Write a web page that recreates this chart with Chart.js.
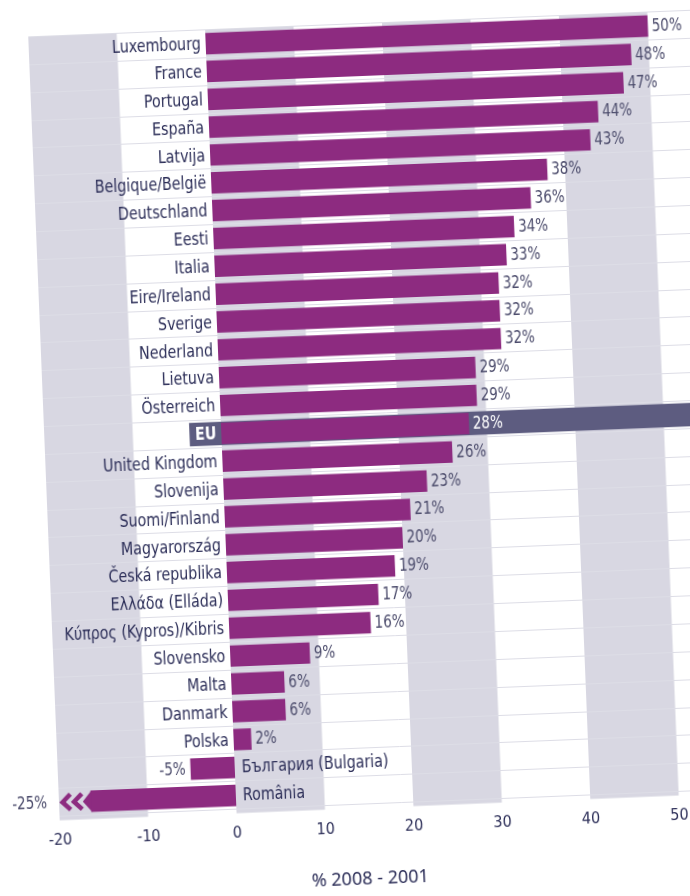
<!DOCTYPE html>
<html>
<head>
<meta charset="utf-8">
<script src="https://cdn.jsdelivr.net/npm/chart.js@4.4.1/dist/chart.umd.min.js"></script>
<style>
  html, body { margin: 0; padding: 0; background: #ffffff; }
  #wrap { position: relative; width: 690px; height: 896px; overflow: hidden; background: #ffffff; }
  /* the printed page in the reference is scanned slightly askew */
  #c { position: absolute; left: -30px; top: 0; transform-origin: 375px 448px; transform: rotate(-2.3deg); }
</style>
</head>
<body>
<div id="wrap"><canvas id="c" width="760" height="896"></canvas></div>
<script>
// ---- data ----
const categories = [
  'Luxembourg', 'France', 'Portugal', 'España', 'Latvija', 'Belgique/België',
  'Deutschland', 'Eesti', 'Italia', 'Eire/Ireland', 'Sverige', 'Nederland',
  'Lietuva', 'Österreich', 'EU', 'United Kingdom', 'Slovenija', 'Suomi/Finland',
  'Magyarország', 'Česká republika', 'Ελλάδα (Elláda)', 'Κύπρος (Kypros)/Kibris',
  'Slovensko', 'Malta', 'Danmark', 'Polska', 'България (Bulgaria)', 'România'
];
const changePct = [
  50, 48, 47, 44, 43, 38,
  36, 34, 33, 32, 32, 32,
  29, 29, 28, 26, 23, 21,
  20, 19, 17, 16,
  9, 6, 6, 2, -5, -25
];
const tickValues = [-20, -10, 0, 10, 20, 30, 40, 50];
const shadedBands = [[-20, -10], [0, 10], [20, 30], [40, 50]];
const highlightCategory = 'EU';
const axisTitle = '% 2008 - 2001';

// ---- styling ----
const PURPLE = '#8d2b80';
const SLATE = '#5d5c80';
const BAND = '#d8d7e2';
const GRIDLINE = '#dddde6';
const LABEL_COLOR = '#2c2e58';
const VALUE_COLOR = '#4c4c6c';
const NARROW = "'DejaVu Sans Condensed', 'Liberation Sans Narrow', sans-serif";
const SQUEEZE = 0.88;           // horizontal condensing of the label lettering
const X_MIN = -20, X_MAX = 57.4;
const TRUNCATE_AT = -16.4;      // where a bar beyond the axis minimum is cut
const CHEVRONS_AT = [-18.3, -19.6];
const HIGHLIGHT_FROM = -3.6;    // left end of the EU highlight strip
const TITLE_AT = 14.8;          // horizontal centre of the axis title, in axis units

function squeezedText(ctx, text, x, y, align) {
  ctx.save();
  ctx.translate(x, y);
  ctx.scale(SQUEEZE, 1);
  ctx.textAlign = align;
  ctx.fillText(text, 0, 0);
  ctx.restore();
}

const bandsPlugin = {
  id: 'bands',
  beforeDraw(chart) {
    const { ctx, chartArea: a, scales: { x } } = chart;
    ctx.save();
    ctx.fillStyle = '#ffffff';
    ctx.fillRect(0, 0, chart.width, chart.height);
    ctx.fillStyle = BAND;
    shadedBands.forEach(([from, to]) => {
      const x1 = x.getPixelForValue(from), x2 = x.getPixelForValue(to);
      ctx.fillRect(x1, a.top, x2 - x1, a.bottom - a.top + 4);
    });
    ctx.restore();
  }
};

const highlightPlugin = {
  id: 'highlight',
  beforeDatasetsDraw(chart) {
    const { ctx, chartArea: a, scales: { x } } = chart;
    const meta = chart.getDatasetMeta(0);
    meta.data.forEach((el, i) => {
      if (changePct[i] < X_MIN) el.x = x.getPixelForValue(TRUNCATE_AT);
    });
    const idx = categories.indexOf(highlightCategory);
    const el = meta.data[idx];
    const h = el.height + 2;
    const x1 = x.getPixelForValue(HIGHLIGHT_FROM);
    ctx.save();
    ctx.fillStyle = SLATE;
    ctx.fillRect(x1, el.y - h / 2, a.right - x1, h);
    ctx.restore();
  }
};

const labelsPlugin = {
  id: 'labels',
  afterDatasetsDraw(chart) {
    const { ctx, chartArea: a, scales: { x } } = chart;
    const meta = chart.getDatasetMeta(0);
    const x0 = x.getPixelForValue(0);
    ctx.save();
    ctx.textBaseline = 'middle';
    meta.data.forEach((el, i) => {
      const v = changePct[i];
      const isHi = categories[i] === highlightCategory;
      const truncated = v < X_MIN;
      if (truncated) {
        const h = el.height;
        const left = el.x;
        ctx.fillStyle = PURPLE;
        ctx.beginPath();
        ctx.moveTo(left + 1, el.y - h / 2);
        ctx.lineTo(left - 8, el.y);
        ctx.lineTo(left + 1, el.y + h / 2);
        ctx.closePath();
        ctx.fill();
        ctx.strokeStyle = PURPLE;
        ctx.lineWidth = 4.5;
        CHEVRONS_AT.forEach(cv => {
          const cx = x.getPixelForValue(cv);
          ctx.beginPath();
          ctx.moveTo(cx + 8, el.y - h * 0.36);
          ctx.lineTo(cx, el.y);
          ctx.lineTo(cx + 8, el.y + h * 0.36);
          ctx.stroke();
        });
      }
      ctx.font = (isHi ? 'bold ' : '') + '18px ' + NARROW;
      ctx.fillStyle = isHi ? '#ffffff' : LABEL_COLOR;
      if (v >= 0) {
        squeezedText(ctx, categories[i], x0 - 5, el.y + 1, 'right');
      } else {
        squeezedText(ctx, categories[i], x0 + 7, el.y + 1, 'left');
      }
      ctx.font = '17px ' + NARROW;
      ctx.fillStyle = isHi ? '#ffffff' : VALUE_COLOR;
      const txt = v + '%';
      if (v >= 0) {
        squeezedText(ctx, txt, el.x + 4, el.y + 1, 'left');
      } else if (truncated) {
        squeezedText(ctx, txt, a.left - 12, el.y + 1, 'right');
      } else {
        squeezedText(ctx, txt, el.x - 5, el.y + 1, 'right');
      }
    });
    ctx.restore();
  },
  afterDraw(chart) {
    const { ctx, scales: { x } } = chart;
    ctx.save();
    ctx.font = "18px 'Noto Sans', 'Open Sans', sans-serif";
    ctx.fillStyle = LABEL_COLOR;
    ctx.textAlign = 'center';
    ctx.textBaseline = 'middle';
    ctx.fillText(axisTitle, x.getPixelForValue(TITLE_AT), 880);
    ctx.restore();
  }
};

new Chart(document.getElementById('c'), {
  type: 'bar',
  data: {
    labels: categories,
    datasets: [{
      data: changePct,
      backgroundColor: PURPLE,
      borderWidth: 0,
      barPercentage: 0.77,
      categoryPercentage: 1
    }]
  },
  options: {
    indexAxis: 'y',
    responsive: false,
    animation: false,
    devicePixelRatio: 1,
    layout: { padding: { left: 75, right: 0, top: 24.5, bottom: 0 } },
    plugins: { legend: { display: false }, tooltip: { enabled: false } },
    scales: {
      x: {
        type: 'linear',
        min: X_MIN,
        max: X_MAX,
        afterBuildTicks: s => { s.ticks = tickValues.map(v => ({ value: v })); },
        afterFit: s => { s.height = 896 - 804.6; },
        grid: { display: false, drawTicks: false },
        border: { display: false },
        ticks: { padding: 15, color: LABEL_COLOR, font: { family: NARROW, size: 16 } }
      },
      y: {
        afterFit: s => { s.width = 0; },
        grid: { color: GRIDLINE, lineWidth: 1, drawTicks: false, offset: true },
        border: { display: false },
        ticks: { display: false }
      }
    }
  },
  plugins: [bandsPlugin, highlightPlugin, labelsPlugin]
});
</script>
</body>
</html>
